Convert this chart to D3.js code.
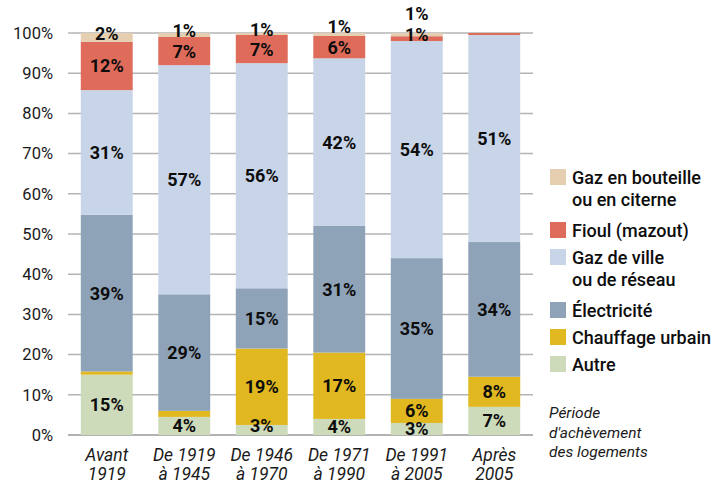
<!DOCTYPE html>
<html>
<head>
<meta charset="utf-8">
<script src="https://cdn.jsdelivr.net/npm/d3@7"></script>
<style>
	body { margin: 0; background: #fff; }
	svg text { font-family: Roboto, "Liberation Sans", sans-serif; }
</style>
</head>
<body>
<svg id="chart" width="728" height="482"></svg>
<script>
const periods = [
	["Avant", "1919"],
	["De 1919", "à 1945"],
	["De 1946", "à 1970"],
	["De 1971", "à 1990"],
	["De 1991", "à 2005"],
	["Après", "2005"],
];

// values bottom -> top, in %
const autre = [15, 4.5, 2.5, 4, 3, 7];
const chauffage = [0.8, 1.5, 19, 16.5, 6, 7.5];
const electricite = [39, 29, 15, 31.5, 35, 33.5];
const gazVille = [31, 57, 56, 41.7, 54, 51.5];
const fioul = [12, 7, 7, 5.6, 1.2, 0.5];
const bouteille = [2.2, 1, 0.5, 0.7, 0.8, 0];

// printed labels (null = not printed)
const autreLbl = [15, 4, 3, 4, 3, 7];
const chauffageLbl = [null, null, 19, 17, 6, 8];
const electriciteLbl = [39, 29, 15, 31, 35, 34];
const gazVilleLbl = [31, 57, 56, 42, 54, 51];
const fioulLbl = [12, 7, 7, 6, 1, null];
const bouteilleLbl = [2, 1, 1, 1, 1, null];

const yTicks = [0, 10, 20, 30, 40, 50, 60, 70, 80, 90, 100];

const series = [
	{ name: ["Autre"], color: "#cddbbb", values: autre, labels: autreLbl },
	{ name: ["Chauffage urbain"], color: "#e1b820", values: chauffage, labels: chauffageLbl },
	{ name: ["Électricité"], color: "#8fa3b8", values: electricite, labels: electriciteLbl },
	{ name: ["Gaz de ville", "ou de réseau"], color: "#c8d5e8", values: gazVille, labels: gazVilleLbl },
	{ name: ["Fioul (mazout)"], color: "#df6b5a", values: fioul, labels: fioulLbl },
	{ name: ["Gaz en bouteille", "ou en citerne"], color: "#e6cfb0", values: bouteille, labels: bouteilleLbl },
];

const svg = d3.select("#chart");
const plot = { left: 68, right: 533, top: 33, bottom: 435 };

const x = d3
	.scaleBand()
	.domain(periods.map((d, i) => i))
	.range([plot.left, plot.right])
	.paddingInner(0.33)
	.paddingOuter(0.165);

const y = d3.scaleLinear().domain([0, 100]).range([plot.bottom, plot.top]);

// grid
svg
	.append("g")
	.selectAll("line")
	.data(yTicks)
	.join("line")
	.attr("x1", plot.left)
	.attr("x2", plot.right)
	.attr("y1", (d) => y(d))
	.attr("y2", (d) => y(d))
	.attr("stroke", (d) => (d === 0 ? "#999" : "#b4b4b4"))
	.attr("stroke-width", 1.5);

// y labels
svg
	.append("g")
	.selectAll("text")
	.data(yTicks)
	.join("text")
	.attr("x", 53)
	.attr("y", (d) => y(d))
	.attr("dy", "0.35em")
	.attr("text-anchor", "end")
	.attr("font-size", 16.5)
	.attr("fill", "#1a1a1a")
	.text((d) => d + "%");

// stack
const rows = periods.map((p, i) => {
	const r = { i };
	series.forEach((s, k) => (r[k] = s.values[i]));
	return r;
});
const stacked = d3.stack().keys(series.map((s, k) => k))(rows);

const bars = svg.append("g");
stacked.forEach((layer, k) => {
	bars
		.append("g")
		.attr("fill", series[k].color)
		.selectAll("rect")
		.data(layer)
		.join("rect")
		.attr("x", (d) => x(d.data.i))
		.attr("width", x.bandwidth())
		.attr("y", (d) => y(d[1]))
		.attr("height", (d) => y(d[0]) - y(d[1]));
});

// value labels, pushed apart when segments are tiny
const labels = [];
periods.forEach((p, i) => {
	let prevY = Infinity;
	stacked.forEach((layer, k) => {
		const lbl = series[k].labels[i];
		if (lbl === null) return;
		const d = layer[i];
		let cy = (y(d[0]) + y(d[1])) / 2;
		if (d[1] - d[0] < 3) cy -= 4;
		if (prevY - cy < 18) cy = prevY - 21;
		prevY = cy;
		labels.push({ i, cy, text: lbl + "%" });
	});
});

svg
	.append("g")
	.selectAll("text")
	.data(labels)
	.join("text")
	.attr("x", (d) => x(d.i) + x.bandwidth() / 2)
	.attr("y", (d) => d.cy)
	.attr("dy", "0.36em")
	.attr("text-anchor", "middle")
	.attr("font-size", 18)
	.attr("font-weight", "bold")
	.attr("fill", "#0d0d0d")
	.text((d) => d.text);

// x labels
const xl = svg
	.append("g")
	.selectAll("text")
	.data(periods)
	.join("text")
	.attr("x", (d, i) => x(i) + x.bandwidth() / 2)
	.attr("y", 461)
	.attr("text-anchor", "middle")
	.attr("font-size", 17.5)
	.attr("font-style", "italic")
	.attr("fill", "#1a1a1a");
xl.append("tspan").text((d) => d[0]);
xl
	.append("tspan")
	.attr("x", (d, i) => x(i) + x.bandwidth() / 2)
	.attr("dy", 18.5)
	.text((d) => d[1]);

// legend
const legend = svg.append("g");
let ly = 169;
series
	.slice()
	.reverse()
	.forEach((s) => {
		legend
			.append("rect")
			.attr("x", 550)
			.attr("y", ly)
			.attr("width", 16)
			.attr("height", 16)
			.attr("fill", s.color);
		const t = legend
			.append("text")
			.attr("x", 572)
			.attr("y", ly + 14.5)
			.attr("font-size", 18)
			.attr("font-weight", 500)
			.attr("fill", "#0d0d0d");
		s.name.forEach((line, j) => {
			t.append("tspan")
				.attr("x", 572)
				.attr("dy", j === 0 ? 0 : 22)
				.text(line);
		});
		ly += s.name.length * 26 + 1;
	});

// note
const note = svg
	.append("text")
	.attr("x", 549)
	.attr("y", 418)
	.attr("font-size", 15.5)
	.attr("font-style", "italic")
	.attr("fill", "#1a1a1a");
["Période", "d'achèvement", "des logements"].forEach((line, j) => {
	note.append("tspan").attr("x", 549).attr("dy", j === 0 ? 0 : 19.5).text(line);
});
</script>
</body>
</html>
